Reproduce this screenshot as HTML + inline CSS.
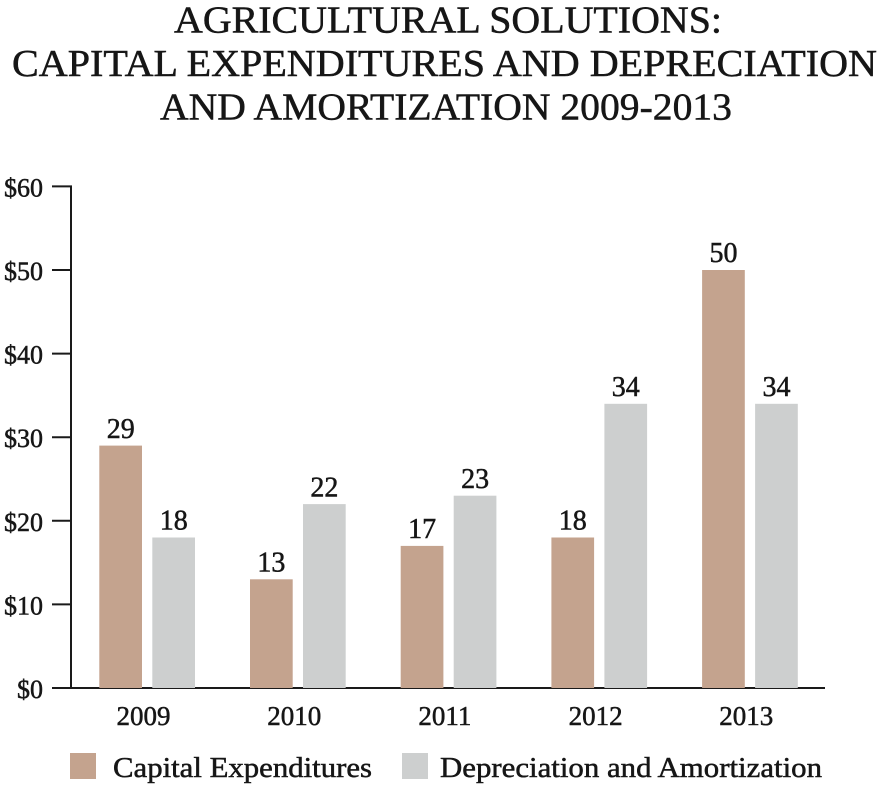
<!DOCTYPE html>
<html>
<head>
<meta charset="utf-8">
<style>
  html,body{margin:0;padding:0;background:#ffffff;}
  svg{display:block;}
  text{font-family:"Liberation Serif",serif;fill:#161616;stroke:#161616;stroke-width:0.5;}
</style>
</head>
<body>
<svg width="890" height="785" viewBox="0 0 890 785" xmlns="http://www.w3.org/2000/svg">
  <rect x="0" y="0" width="890" height="785" fill="#ffffff"/>
  <!-- Title -->
  <text x="174" y="32.5" font-size="38" textLength="548" lengthAdjust="spacingAndGlyphs">AGRICULTURAL SOLUTIONS:</text>
  <text x="12" y="76" font-size="38" textLength="865" lengthAdjust="spacingAndGlyphs">CAPITAL EXPENDITURES AND DEPRECIATION</text>
  <text x="160" y="119.5" font-size="38" textLength="572" lengthAdjust="spacingAndGlyphs">AND AMORTIZATION 2009-2013</text>

  <!-- Y axis -->
  <line x1="71" y1="186" x2="71" y2="689" stroke="#1a1a1a" stroke-width="2"/>
  <line x1="52" y1="186.4" x2="72" y2="186.4" stroke="#1a1a1a" stroke-width="2"/>
  <line x1="52" y1="270" x2="72" y2="270" stroke="#1a1a1a" stroke-width="2"/>
  <line x1="52" y1="353.6" x2="72" y2="353.6" stroke="#1a1a1a" stroke-width="2"/>
  <line x1="52" y1="437.2" x2="72" y2="437.2" stroke="#1a1a1a" stroke-width="2"/>
  <line x1="52" y1="520.8" x2="72" y2="520.8" stroke="#1a1a1a" stroke-width="2"/>
  <line x1="52" y1="604.4" x2="72" y2="604.4" stroke="#1a1a1a" stroke-width="2"/>
  <line x1="52" y1="688" x2="825" y2="688" stroke="#1a1a1a" stroke-width="2"/>

  <g font-size="26" text-anchor="end">
    <text x="43" y="196.4">$60</text>
    <text x="43" y="280">$50</text>
    <text x="43" y="363.6">$40</text>
    <text x="43" y="447.2">$30</text>
    <text x="43" y="530.8">$20</text>
    <text x="43" y="614.4">$10</text>
    <text x="43" y="698">$0</text>
  </g>

  <!-- Bars: capital -->
  <g fill="#c4a38e">
    <rect x="99.3" y="445.6" width="42.7" height="242.4"/>
    <rect x="250" y="579.3" width="42.7" height="108.7"/>
    <rect x="400.7" y="545.9" width="42.7" height="142.1"/>
    <rect x="551.4" y="537.5" width="42.7" height="150.5"/>
    <rect x="702.1" y="270" width="42.7" height="418"/>
  </g>
  <!-- Bars: depreciation -->
  <g fill="#cdcfcf">
    <rect x="152.3" y="537.5" width="42.7" height="150.5"/>
    <rect x="303" y="504.1" width="42.7" height="183.9"/>
    <rect x="453.7" y="495.7" width="42.7" height="192.3"/>
    <rect x="604.4" y="403.8" width="42.7" height="284.2"/>
    <rect x="755.1" y="403.8" width="42.7" height="284.2"/>
  </g>

  <!-- Value labels -->
  <g font-size="28" text-anchor="middle">
    <text x="120.7" y="437.8">29</text>
    <text x="271.4" y="571.5">13</text>
    <text x="422.1" y="538.1">17</text>
    <text x="572.8" y="529.7">18</text>
    <text x="723.5" y="262.2">50</text>
    <text x="173.7" y="529.7">18</text>
    <text x="324.4" y="496.3">22</text>
    <text x="475.1" y="487.9">23</text>
    <text x="625.8" y="396">34</text>
    <text x="776.5" y="396">34</text>
  </g>

  <!-- X labels -->
  <g font-size="27" text-anchor="middle" style="stroke-width:0.8">
    <text x="143.5" y="725">2009</text>
    <text x="294.2" y="725">2010</text>
    <text x="444.9" y="725">2011</text>
    <text x="595.6" y="725">2012</text>
    <text x="746.3" y="725">2013</text>
  </g>

  <!-- Legend -->
  <rect x="70" y="753" width="26" height="26" fill="#c4a38e"/>
  <text x="113" y="777" font-size="29" textLength="259" lengthAdjust="spacingAndGlyphs">Capital Expenditures</text>
  <rect x="402" y="753" width="26" height="26" fill="#cdcfcf"/>
  <text x="440" y="777" font-size="29" textLength="382" lengthAdjust="spacingAndGlyphs">Depreciation and Amortization</text>
</svg>
</body>
</html>
